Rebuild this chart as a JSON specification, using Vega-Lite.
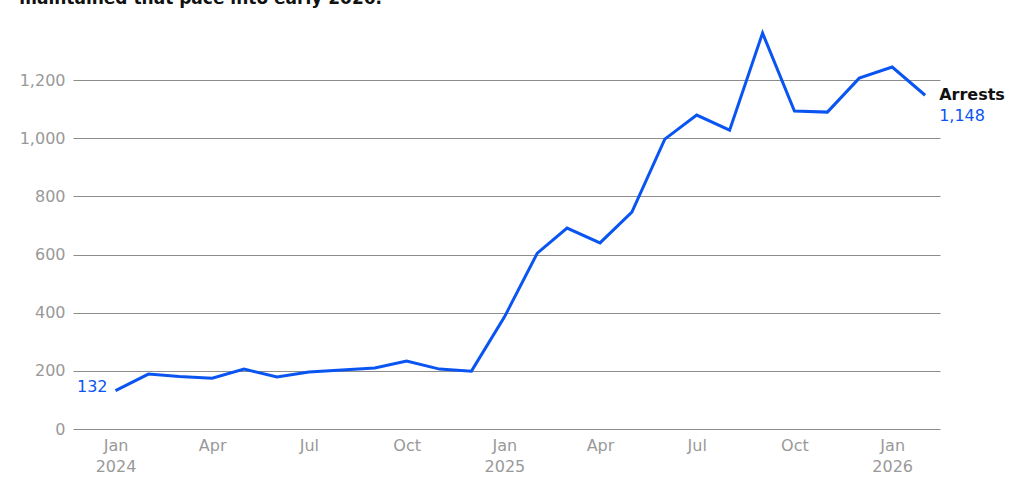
{
  "$schema": "https://vega.github.io/schema/vega-lite/v6.json",
  "autosize": {"type": "none"},
  "width": 867,
  "height": 407,
  "padding": {"left": 73, "top": 22, "right": 84, "bottom": 60},
  "background": "white",
  "title": {
    "text": "maintained that pace into early 2026.",
    "anchor": "start",
    "frame": "bounds",
    "font": "DejaVu Sans",
    "fontSize": 17,
    "fontWeight": "bold",
    "color": "#111111",
    "offset": 14
  },
  "config": {
    "view": {"stroke": null},
    "font": "DejaVu Sans"
  },
  "data": {
    "values": [
      {"date": "2024/01/01", "arrests": 132},
      {"date": "2024/02/01", "arrests": 189},
      {"date": "2024/03/01", "arrests": 181},
      {"date": "2024/04/01", "arrests": 175},
      {"date": "2024/05/01", "arrests": 206},
      {"date": "2024/06/01", "arrests": 179},
      {"date": "2024/07/01", "arrests": 196},
      {"date": "2024/08/01", "arrests": 203},
      {"date": "2024/09/01", "arrests": 210},
      {"date": "2024/10/01", "arrests": 234},
      {"date": "2024/11/01", "arrests": 206},
      {"date": "2024/12/01", "arrests": 199},
      {"date": "2025/01/01", "arrests": 385},
      {"date": "2025/02/01", "arrests": 605},
      {"date": "2025/03/01", "arrests": 691},
      {"date": "2025/04/01", "arrests": 640},
      {"date": "2025/05/01", "arrests": 746},
      {"date": "2025/06/01", "arrests": 997},
      {"date": "2025/07/01", "arrests": 1080},
      {"date": "2025/08/01", "arrests": 1028},
      {"date": "2025/09/01", "arrests": 1362},
      {"date": "2025/10/01", "arrests": 1094},
      {"date": "2025/11/01", "arrests": 1090},
      {"date": "2025/12/01", "arrests": 1207},
      {"date": "2026/01/01", "arrests": 1245},
      {"date": "2026/02/01", "arrests": 1148}
    ]
  },
  "encoding": {
    "x": {
      "field": "date",
      "type": "temporal",
      "title": null,
      "scale": {"domain": [{"year": 2023, "month": 11, "date": 22}, {"year": 2026, "month": 2, "date": 15}]},
      "axis": {
        "domain": false,
        "ticks": false,
        "grid": false,
        "values": [
          {"year": 2024, "month": 1, "date": 1},
          {"year": 2024, "month": 4, "date": 1},
          {"year": 2024, "month": 7, "date": 1},
          {"year": 2024, "month": 10, "date": 1},
          {"year": 2025, "month": 1, "date": 1},
          {"year": 2025, "month": 4, "date": 1},
          {"year": 2025, "month": 7, "date": 1},
          {"year": 2025, "month": 10, "date": 1},
          {"year": 2026, "month": 1, "date": 1}
        ],
        "labelExpr": "month(datum.value) == 0 ? [timeFormat(datum.value, '%b'), timeFormat(datum.value, '%Y')] : timeFormat(datum.value, '%b')",
        "labelColor": "#999999",
        "labelFontSize": 16,
        "labelPadding": 8,
        "labelLineHeight": 21,
        "labelFlush": false
      }
    },
    "y": {
      "field": "arrests",
      "type": "quantitative",
      "title": null,
      "scale": {"domain": [0, 1400], "nice": false},
      "axis": {
        "domain": false,
        "ticks": false,
        "values": [0, 200, 400, 600, 800, 1000, 1200],
        "gridColor": "#8c8c8c",
        "gridWidth": 1,
        "gridOpacity": 1,
        "labelColor": "#999999",
        "labelFontSize": 16,
        "labelPadding": 8,
        "format": ",d"
      }
    }
  },
  "layer": [
    {
      "mark": {"type": "line", "color": "#0a55f2", "strokeWidth": 3, "strokeJoin": "miter"}
    },
    {
      "transform": [{"filter": "datum.arrests == 1148"}],
      "mark": {"type": "text", "align": "left", "baseline": "middle", "dx": 14, "dy": 0, "fontSize": 16, "fontWeight": "bold", "color": "#111111"},
      "encoding": {"text": {"value": "Arrests"}}
    },
    {
      "transform": [{"filter": "datum.arrests == 1148"}],
      "mark": {"type": "text", "align": "left", "baseline": "middle", "dx": 14, "dy": 21, "fontSize": 16, "color": "#0a55f2"},
      "encoding": {"text": {"field": "arrests", "type": "quantitative", "format": ","}}
    },
    {
      "transform": [{"filter": "datum.arrests == 132"}],
      "mark": {"type": "text", "align": "right", "baseline": "middle", "dx": -8, "dy": -4, "fontSize": 16, "color": "#0a55f2"},
      "encoding": {"text": {"field": "arrests", "type": "quantitative", "format": ","}}
    }
  ]
}
